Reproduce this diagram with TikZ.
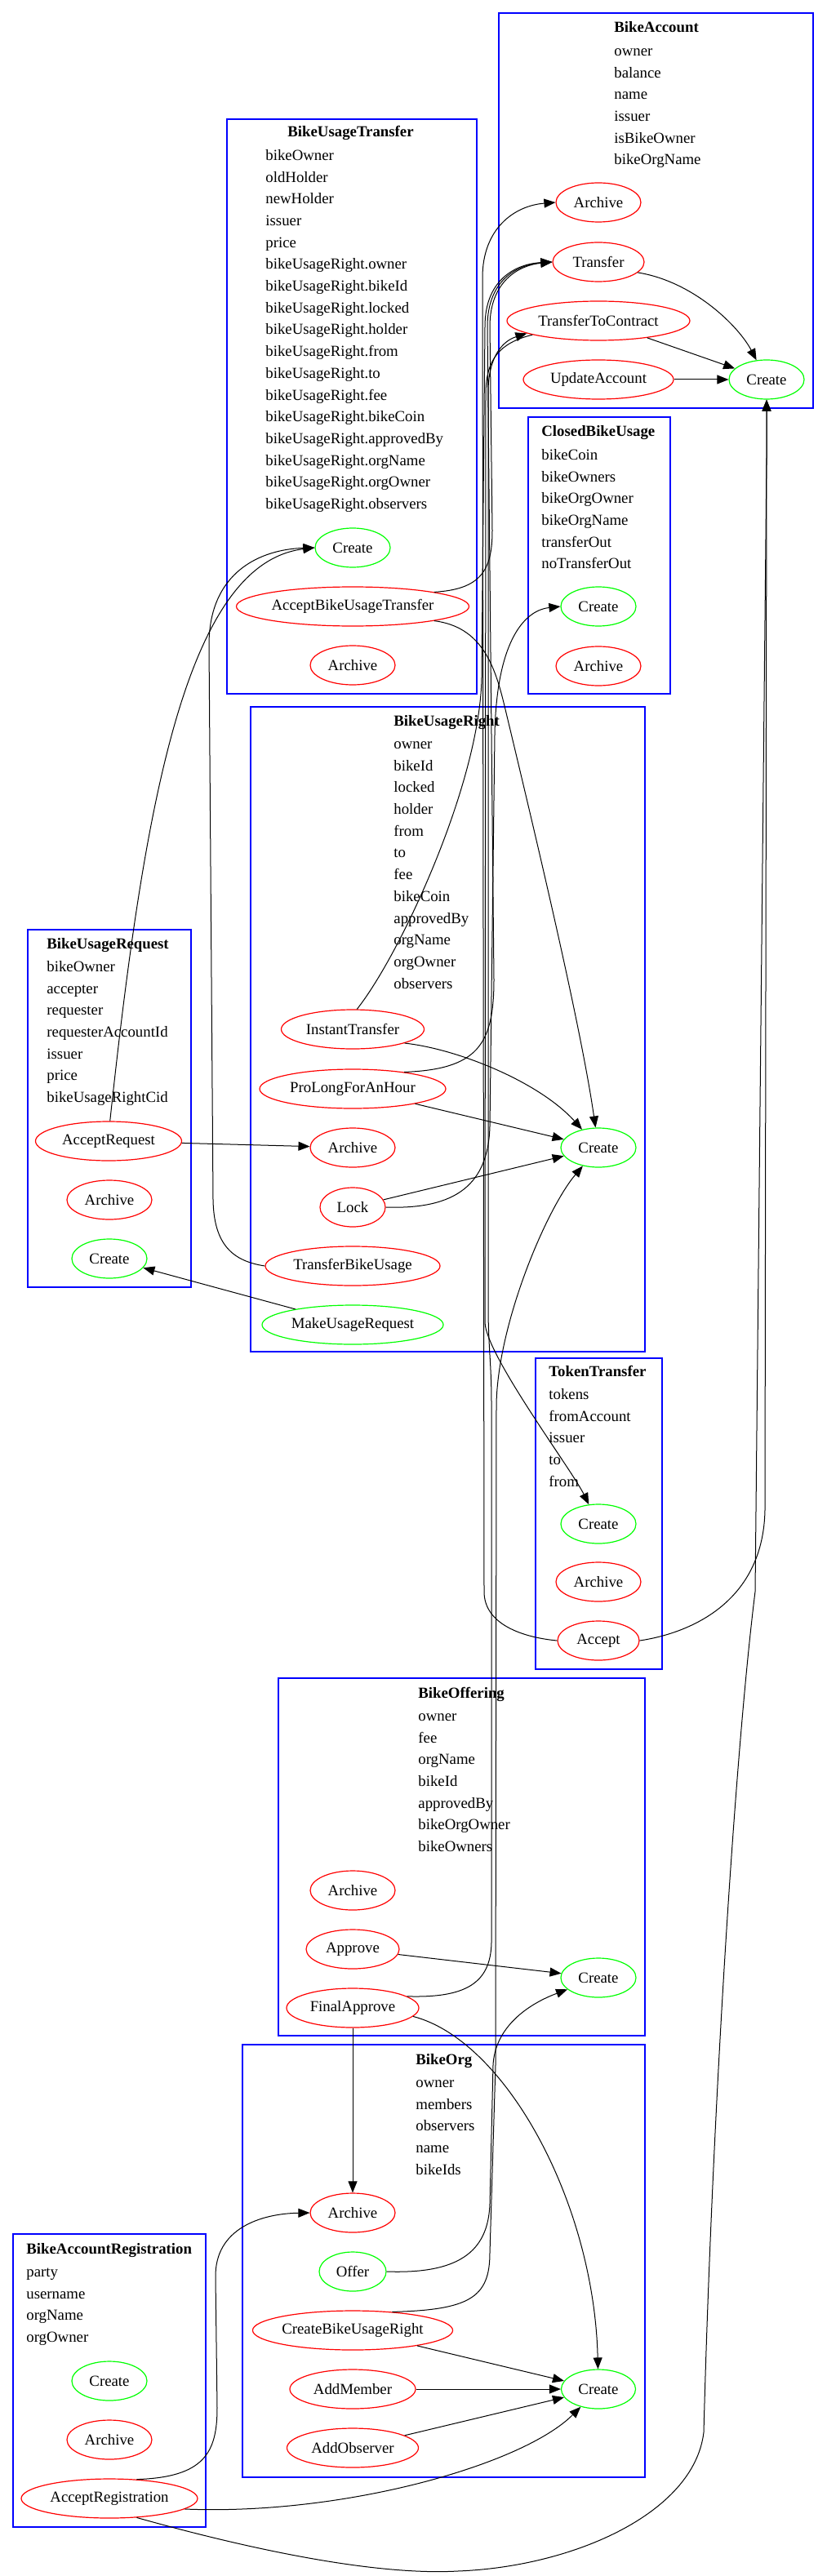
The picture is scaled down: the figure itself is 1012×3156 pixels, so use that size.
\documentclass[tikz,border=0pt]{standalone}
\usepackage{fontspec}
\setmainfont{Liberation Serif}
\usetikzlibrary{shapes.geometric,arrows.meta}

\tikzset{
  cluster/.style={draw=blue, line width=0.6pt},
  choice/.style={ellipse, draw=red, line width=0.6pt, inner sep=0pt, minimum height=24pt},
  create/.style={choice, draw=green},
  attr/.style={anchor=base west, inner sep=0pt},
  title/.style={attr, font=\fontsize{9.4}{11}\selectfont\bfseries},
  flow/.style={->, line width=0.5pt},
}
% one line per field, below the title
\newcommand\fields[4]{%
  \foreach \f [count=\i] in {#4}
    \node[attr] (#1-\i) at (#2, #3+7.7+\i*26.7) {\f};}

\begin{document}
\begin{tikzpicture}[x=0.5pt, y=-0.5pt, font=\fontsize{9.4}{11}\selectfont,
    >={Triangle[length=7pt,width=5.5pt]}]
  \useasboundingbox (0,0) rectangle (1012,3156);

  % BikeAccount
  \draw[cluster] (611,16) rectangle (996,500);
  \node[title] (acc) at (752,40) {BikeAccount};
  \fields{acc}{752}{34}{owner,balance,name,issuer,isBikeOwner,bikeOrgName}
  \node[choice, minimum width=52pt]  (acc_Archive)  at (733,248) {Archive};
  \node[choice, minimum width=56pt]  (acc_Transfer) at (733,321) {Transfer};
  \node[choice, minimum width=112pt] (acc_TTC)      at (733,393) {TransferToContract};
  \node[choice, minimum width=92pt]  (acc_Update)   at (733,465) {UpdateAccount};
  \node[create, minimum width=46pt]  (acc_Create)   at (939,465) {Create};

  % BikeUsageTransfer
  \draw[cluster] (278,146) rectangle (584,850);
  \node[title] (but) at (352,168) {BikeUsageTransfer};
  \fields{but}{325}{162}{bikeOwner,oldHolder,newHolder,issuer,price,
    bikeUsageRight.owner,bikeUsageRight.bikeId,bikeUsageRight.locked,
    bikeUsageRight.holder,bikeUsageRight.from,bikeUsageRight.to,
    bikeUsageRight.fee,bikeUsageRight.bikeCoin,bikeUsageRight.approvedBy,
    bikeUsageRight.orgName,bikeUsageRight.orgOwner,bikeUsageRight.observers}
  \node[create, minimum width=46pt]    (but_Create)  at (432,671) {Create};
  \node[choice, minimum width=142.5pt] (but_Accept)  at (432,743) {AcceptBikeUsageTransfer};
  \node[choice, minimum width=52pt]    (but_Archive) at (432,815) {Archive};

  % ClosedBikeUsage
  \draw[cluster] (647,511) rectangle (821,850);
  \node[title] (cbu) at (663,535) {ClosedBikeUsage};
  \fields{cbu}{663}{529}{bikeCoin,bikeOwners,bikeOrgOwner,bikeOrgName,transferOut,noTransferOut}
  \node[create, minimum width=46pt] (cbu_Create)  at (733,743) {Create};
  \node[choice, minimum width=52pt] (cbu_Archive) at (733,816) {Archive};

  % BikeUsageRight
  \draw[cluster] (307,866) rectangle (790,1656);
  \node[title] (bur) at (482,889) {BikeUsageRight};
  \fields{bur}{482}{883}{owner,bikeId,locked,holder,from,to,fee,bikeCoin,approvedBy,orgName,orgOwner,observers}
  \node[choice, minimum width=87.5pt] (bur_Instant)    at (432,1261) {InstantTransfer};
  \node[choice, minimum width=114pt]  (bur_ProLong)    at (432,1334) {ProLongForAnHour};
  \node[choice, minimum width=52pt]   (bur_Archive)    at (432,1406) {Archive};
  \node[choice, minimum width=40pt]   (bur_Lock)       at (432,1479) {Lock};
  \node[choice, minimum width=107pt]  (bur_TransferBU) at (432,1551) {TransferBikeUsage};
  \node[create, minimum width=111pt]  (bur_MakeReq)    at (432,1623) {MakeUsageRequest};
  \node[create, minimum width=46pt]   (bur_Create)     at (733,1406) {Create};

  % BikeUsageRequest
  \draw[cluster] (34,1139) rectangle (234,1577);
  \node[title] (req) at (57,1162) {BikeUsageRequest};
  \fields{req}{57}{1156}{bikeOwner,accepter,requester,requesterAccountId,issuer,price,bikeUsageRightCid}
  \node[choice, minimum width=89.5pt] (req_Accept)  at (133,1398) {AcceptRequest};
  \node[choice, minimum width=52pt]   (req_Archive) at (134,1470) {Archive};
  \node[create, minimum width=46pt]   (req_Create)  at (134,1542) {Create};

  % TokenTransfer
  \draw[cluster] (656,1664) rectangle (811,2045);
  \node[title] (tt) at (672,1686) {TokenTransfer};
  \fields{tt}{672}{1680}{tokens,fromAccount,issuer,to,from}
  \node[create, minimum width=46pt] (tt_Create)  at (733,1867) {Create};
  \node[choice, minimum width=52pt] (tt_Archive) at (733,1938) {Archive};
  \node[choice, minimum width=50pt] (tt_Accept)  at (733,2010) {Accept};

  % BikeOffering
  \draw[cluster] (341,2056) rectangle (790,2494);
  \node[title] (bo) at (512,2080) {BikeOffering};
  \fields{bo}{512}{2074}{owner,fee,orgName,bikeId,approvedBy,bikeOrgOwner,bikeOwners}
  \node[choice, minimum width=52pt] (bo_Archive) at (432,2316) {Archive};
  \node[choice, minimum width=57pt] (bo_Approve) at (432,2388) {Approve};
  \node[choice, minimum width=81pt] (bo_Final)   at (432,2460) {FinalApprove};
  \node[create, minimum width=46pt] (bo_Create)  at (733,2423) {Create};

  % BikeOrg
  \draw[cluster] (297,2505) rectangle (790,3035);
  \node[title] (org) at (509,2529) {BikeOrg};
  \fields{org}{509}{2523}{owner,members,observers,name,bikeIds}
  \node[choice, minimum width=52pt]    (org_Archive)  at (432,2711) {Archive};
  \node[create, minimum width=41pt]    (org_Offer)    at (432,2783) {Offer};
  \node[choice, minimum width=122.5pt] (org_CBUR)     at (432,2855) {CreateBikeUsageRight};
  \node[choice, minimum width=77pt]    (org_Member)   at (432,2927) {AddMember};
  \node[choice, minimum width=80.5pt]  (org_Observer) at (432,2999) {AddObserver};
  \node[create, minimum width=45.5pt]  (org_Create)   at (733,2927) {Create};

  % BikeAccountRegistration
  \draw[cluster] (16,2737) rectangle (252,3096);
  \node[title] (reg) at (32,2761) {BikeAccountRegistration};
  \fields{reg}{32}{2755}{party,username,orgName,orgOwner}
  \node[create, minimum width=46pt]  (reg_Create)  at (134,2917) {Create};
  \node[choice, minimum width=52pt]  (reg_Archive) at (134,2989) {Archive};
  \node[choice, minimum width=108pt] (reg_Accept)  at (134,3061) {AcceptRegistration};

  % edges inside the templates
  \path[flow] (acc_TTC) edge (acc_Create)
              (acc_Update) edge (acc_Create)
              (bur_ProLong) edge (bur_Create)
              (bur_Lock) edge (bur_Create)
              (req_Accept) edge (bur_Archive)
              (bur_MakeReq) edge (req_Create)
              (bo_Approve) edge (bo_Create)
              (bo_Final) edge (org_Archive)
              (org_CBUR) edge (org_Create)
              (org_Member) edge (org_Create)
              (org_Observer) edge (org_Create);
  \draw[flow] (acc_Transfer.-15) .. controls (850,345) and (905,400) .. (acc_Create);
  \draw[flow] (bur_Instant.-15) .. controls (560,1285) and (660,1325) .. (bur_Create);

  % long edges up the bundle
  \draw[flow] (tt_Accept.west) .. controls (640,2006) and (593,1990) .. (593,1950)
    -- (591,340) .. controls (591,280) and (630,252) .. (acc_Archive.west);
  \draw[flow] (acc_TTC.192) .. controls (612,420) and (596,440) .. (595,480)
    -- (594,1620) .. controls (595,1660) and (700,1800) .. (tt_Create);
  \draw[flow] (bo_Final.12) .. controls (570,2448) and (601,2430) .. (602,2380)
    -- (602,1720) .. controls (602,1670) and (598,1650) .. (598,1600)
    -- (598,480) .. controls (598,438) and (615,418) .. (acc_TTC.190);
  \draw[flow] (but_Accept.10) .. controls (588,722) and (603,700) .. (603,650)
    -- (600,400) .. controls (600,345) and (635,325) .. (acc_Transfer.west);
  \draw[flow] (bur_Instant.78) .. controls (490,1170) and (588,960) .. (590,830)
    -- (594,400) .. controls (594,340) and (635,323) .. (acc_Transfer.west);
  \draw[flow] (bur_ProLong.18) .. controls (585,1310) and (605,1280) .. (605,1200)
    -- (597,400) .. controls (597,342) and (635,324) .. (acc_Transfer.west);
  \draw[flow] (bur_Lock.east) .. controls (560,1482) and (598,1450) .. (600,1380)
    -- (606,900) .. controls (608,790) and (640,748) .. (cbu_Create.west);
  \draw[flow] (but_Accept.-10) .. controls (590,768) and (606,815) .. (618,865)
    .. controls (660,1040) and (712,1260) .. (bur_Create);
  \draw[flow] (org_CBUR.25) .. controls (575,2830) and (600,2815) .. (600,2760)
    -- (607,2530) -- (608,1720) .. controls (610,1620) and (670,1480) .. (bur_Create);
  \draw[flow] (req_Accept.86) .. controls (175,1000) and (225,690) .. (but_Create.west);
  \draw[flow] (bur_TransferBU.west) .. controls (285,1545) and (262,1525) .. (261,1470)
    -- (256,790) .. controls (256,700) and (320,673) .. (but_Create.west);
  \draw[flow] (org_Offer.east) .. controls (560,2786) and (598,2760) .. (600,2700)
    -- (604,2530) .. controls (606,2488) and (640,2458) .. (bo_Create);
  \draw[flow] (bo_Final.-8) .. controls (620,2500) and (728,2700) .. (org_Create);

  % registration and token accept
  \draw[flow] (reg_Accept.35) .. controls (250,3035) and (266,3005) .. (266,2950)
    -- (264,2790) .. controls (263,2730) and (320,2712) .. (org_Archive.west);
  \draw[flow] (reg_Accept.-8) .. controls (420,3082) and (640,3020) .. (org_Create);
  \draw[flow] (reg_Accept.-35) .. controls (330,3130) and (470,3155) .. (560,3150)
    .. controls (700,3145) and (850,3080) .. (862,2980)
    .. controls (872,2600) and (900,2150) .. (925,1950) -- (939,560) -- (acc_Create);
  \draw[flow] (tt_Accept.east) .. controls (850,2000) and (935,1960) .. (937,1850)
    -- (939,560) -- (acc_Create);
\end{tikzpicture}
\end{document}
